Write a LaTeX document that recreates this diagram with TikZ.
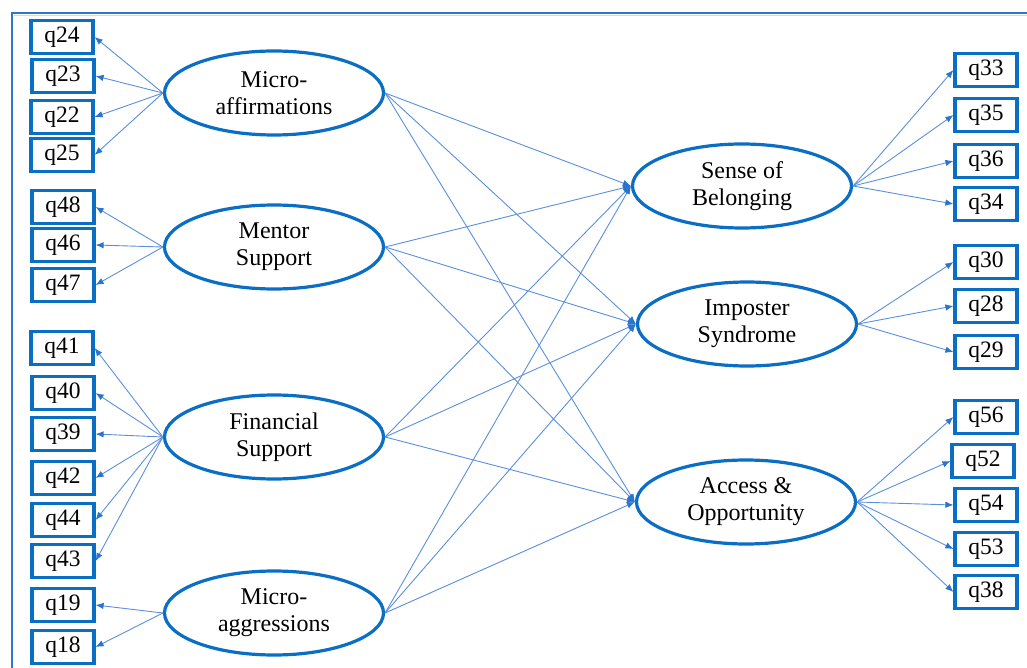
\documentclass[tikz,border=0pt]{standalone}
\usepackage{fontspec}
\setmainfont{Liberation Serif}
\usetikzlibrary{shapes.geometric,arrows.meta}
\definecolor{dblue}{HTML}{0B6EC5}
\definecolor{lblue}{HTML}{5A8FDC}
\definecolor{hblue}{HTML}{2A74CF}
\definecolor{fblue}{HTML}{2E78CC}
\begin{document}
\begin{tikzpicture}[x=1pt,y=-1pt,
  item/.style={draw=dblue,line width=3.2pt,minimum width=62pt,minimum height=33pt,inner sep=0pt,font=\fontsize{23.5}{27}\selectfont},
  latent/.style={ellipse,draw=dblue,line width=3.2pt,minimum width=219pt,minimum height=84pt,inner sep=0pt,align=center,font=\fontsize{24}{27}\selectfont},
  link/.style={draw=lblue,line width=0.9pt,-{Latex[length=8pt,width=6.5pt,fill=hblue,color=hblue]}}]
\useasboundingbox (0,0) rectangle (1027,668);
% frame
\draw[black!15,line width=1.5pt] (13.5,15.5) -- (1027,15.5);
\draw[fblue,line width=2pt] (12,668) -- (12,13) -- (1027,13);
% latent variables
\node[latent] (MA) at (274,93) {Micro-\\affirmations};
\node[latent] (MS) at (274,247) {Mentor\\Support};
\node[latent] (FS) at (274,437) {Financial\\Support};
\node[latent] (MG) at (274,613) {Micro-\\aggressions};
\node[latent] (SB) at (742,186) {Sense of\\Belonging};
\node[latent] (IS) at (747,324) {Imposter\\Syndrome};
\node[latent] (AO) at (746,502) {Access \&\\Opportunity};
% left items
\node[item] (q24) at (62,37) {q24};
\node[item] (q23) at (63,76) {q23};
\node[item] (q22) at (62,117) {q22};
\node[item] (q25) at (62,155) {q25};
\node[item] (q48) at (63,207) {q48};
\node[item] (q46) at (63,245) {q46};
\node[item] (q47) at (63,285) {q47};
\node[item] (q41) at (62,348) {q41};
\node[item] (q40) at (63,393) {q40};
\node[item] (q39) at (63,434) {q39};
\node[item] (q42) at (63,478) {q42};
\node[item] (q44) at (63,520) {q44};
\node[item] (q43) at (63,561) {q43};
\node[item] (q19) at (63,605) {q19};
\node[item] (q18) at (63,647) {q18};
% right items
\node[item] (q33) at (986,70) {q33};
\node[item] (q35) at (986,115) {q35};
\node[item] (q36) at (986,161) {q36};
\node[item] (q34) at (986,204) {q34};
\node[item] (q30) at (986,262) {q30};
\node[item] (q28) at (986,306) {q28};
\node[item] (q29) at (986,352) {q29};
\node[item] (q56) at (986,417) {q56};
\node[item] (q52) at (983,461) {q52};
\node[item] (q54) at (986,505) {q54};
\node[item] (q53) at (986,549) {q53};
\node[item] (q38) at (986,592) {q38};
% measurement paths
\foreach \q in {q24,q23,q22,q25} \draw[link] (MA.west) -- (\q.east);
\foreach \q in {q48,q46,q47} \draw[link] (MS.west) -- (\q.east);
\foreach \q in {q41,q40,q39,q42,q44,q43} \draw[link] (FS.west) -- (\q.east);
\foreach \q in {q19,q18} \draw[link] (MG.west) -- (\q.east);
\foreach \q in {q33,q35,q36,q34} \draw[link] (SB.east) -- (\q.west);
\foreach \q in {q30,q28,q29} \draw[link] (IS.east) -- (\q.west);
\foreach \q in {q56,q52,q54,q53,q38} \draw[link] (AO.east) -- (\q.west);
% structural paths
\foreach \a in {MA,MS,FS,MG}
  \foreach \b in {SB,IS,AO}
    \draw[link] (\a.east) -- (\b.west);
\end{tikzpicture}
\end{document}
